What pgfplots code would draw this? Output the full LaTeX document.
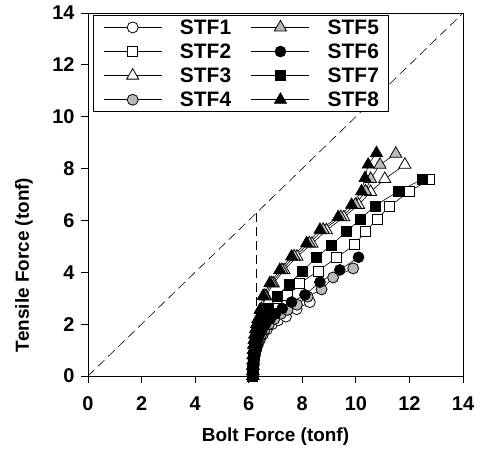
\documentclass[border=0pt]{standalone}
\usepackage{pgfplots}
\pgfplotsset{compat=1.18}
\usepackage{fontspec}
\setmainfont{Liberation Sans}
\begin{document}
\begin{tikzpicture}
\useasboundingbox (-88bp,-76bp) rectangle (393bp,376bp);
\pgfplotsset{
  s1/.style={black, line width=0.6bp, mark=*, mark size=5.5bp, mark options={solid, fill=white, line width=0.8bp}},
  s2/.style={black, line width=0.6bp, mark=square*, mark size=5bp, mark options={solid, fill=white, line width=0.8bp}},
  s3/.style={black, line width=0.6bp, mark=triangle*, mark size=7bp, mark options={solid, fill=white, line width=0.8bp}},
  s4/.style={black, line width=0.6bp, mark=*, mark size=5.5bp, mark options={solid, fill=gray!55, line width=0.8bp}},
  s5/.style={black, line width=0.6bp, mark=triangle*, mark size=7bp, mark options={solid, fill=gray!55, line width=0.8bp}},
  s6/.style={black, line width=0.6bp, mark=*, mark size=5.5bp, mark options={solid, fill=black}},
  s7/.style={black, line width=0.6bp, mark=square*, mark size=5bp, mark options={solid, fill=black}},
  s8/.style={black, line width=0.6bp, mark=triangle*, mark size=7bp, mark options={solid, fill=black}},
}
\begin{axis}[
  at={(0,0)}, anchor=south west,
  scale only axis, width=375bp, height=363bp,
  xmin=0, xmax=14, ymin=0, ymax=14,
  xtick={0,2,...,14}, ytick={0,2,...,14},
  xtick pos=bottom, ytick pos=left,
  tick align=outside, major tick length=7bp,
  axis line style={line width=0.8bp},
  every tick/.style={black, line width=0.8bp},
  /pgf/number format/assume math mode=true,
  tick label style={font=\fontsize{20}{24}\selectfont\bfseries},
  xticklabel style={yshift=-10bp},
  yticklabel style={xshift=-3bp},
  xlabel={Bolt Force (tonf)},
  ylabel={Tensile Force (tonf)},
  label style={font=\fontsize{19}{22}\selectfont\bfseries},
  xlabel style={at={(axis description cs:0.5,-0.168)}, anchor=center},
  ylabel style={at={(axis description cs:-0.171,0.306)}, anchor=center},
  legend columns=2,
  legend cell align=left,
  legend style={at={(axis description cs:0.0133,0.9945)}, anchor=north west,
    font=\fontsize{21}{24}\selectfont\bfseries, draw=black, line width=0.8bp,
    inner xsep=10bp, inner ysep=4bp, row sep=8bp,
    nodes={inner sep=0bp},
    /tikz/every odd column/.append style={column sep=18bp},
    /tikz/every even column/.append style={column sep=20bp}},
  legend image code/.code={\draw[mark repeat=2,mark phase=2] plot coordinates {(0bp,0bp)(29bp,0bp)(58bp,0bp)};},
  clip=false,
]
\addplot[black, line width=0.6bp, dash pattern=on 9bp off 5bp, forget plot] coordinates {(0,0)(14,14)};
\addplot[black, line width=0.6bp, dash pattern=on 9bp off 5bp, forget plot] coordinates {(6.3,0)(6.3,6.3)};
% STF1
\addplot[s1, forget plot] coordinates {(6.15,0)(6.16,0.2)(6.18,0.4)(6.2,0.6)(6.23,0.8)(6.28,1.0)(6.34,1.2)(6.42,1.4)(6.53,1.6)(6.68,1.8)(6.87,2.0)(7.1,2.15)(7.39,2.29)(7.79,2.58)(8.28,2.85)};
% STF2
\addplot[s2, forget plot] coordinates {(6.15,0)(6.16,0.2)(6.17,0.4)(6.18,0.6)(6.2,0.8)(6.22,1.0)(6.25,1.2)(6.29,1.4)(6.35,1.6)(6.43,1.8)(6.53,2.0)(6.66,2.2)(6.82,2.4)(7.04,2.6)(7.44,3.09)(7.91,3.58)(8.59,4.05)(9.28,4.57)(9.96,5.06)(10.36,5.57)(10.8,6.05)(11.27,6.56)(12.01,7.12)(12.76,7.59)};
% STF3
\addplot[s3, forget plot] coordinates {(6.16,0)(6.16,0.2)(6.16,0.4)(6.17,0.6)(6.17,0.8)(6.19,1.0)(6.21,1.2)(6.23,1.4)(6.26,1.6)(6.3,1.8)(6.34,2.0)(6.39,2.2)(6.48,2.55)(6.64,3.07)(6.92,3.57)(7.32,4.08)(7.8,4.6)(8.36,5.1)(8.9,5.62)(9.55,6.12)(10.1,6.6)(10.55,7.1)(11.08,7.6)(11.83,8.15)};
% STF4
\addplot[s4, forget plot] coordinates {(6.15,0)(6.16,0.2)(6.17,0.4)(6.19,0.6)(6.22,0.8)(6.26,1.0)(6.31,1.2)(6.38,1.4)(6.47,1.6)(6.6,1.8)(6.76,2.0)(6.96,2.2)(7.2,2.4)(7.45,2.55)(7.8,2.75)(8.2,3.06)(8.72,3.34)(9.15,3.8)(9.9,4.15)};
% STF5
\addplot[s5, forget plot] coordinates {(6.16,0)(6.16,0.2)(6.16,0.4)(6.17,0.6)(6.17,0.8)(6.18,1.0)(6.2,1.2)(6.22,1.4)(6.25,1.6)(6.28,1.8)(6.32,2.0)(6.37,2.2)(6.46,2.55)(6.6,3.09)(6.86,3.58)(7.24,4.09)(7.7,4.61)(8.26,5.12)(8.78,5.64)(9.44,6.13)(9.98,6.6)(10.36,7.12)(10.55,7.6)(10.9,8.15)(11.49,8.57)};
% STF6
\addplot[s6, forget plot] coordinates {(6.15,0)(6.16,0.2)(6.17,0.4)(6.19,0.6)(6.21,0.8)(6.24,1.0)(6.28,1.2)(6.33,1.4)(6.4,1.6)(6.5,1.8)(6.63,2.0)(6.8,2.2)(7.0,2.4)(7.25,2.6)(7.6,2.85)(8.1,3.13)(8.66,3.62)(9.4,4.09)(10.1,4.58)};
% STF7
\addplot[s7, forget plot] coordinates {(6.15,0)(6.15,0.2)(6.16,0.4)(6.17,0.6)(6.18,0.8)(6.2,1.0)(6.22,1.2)(6.25,1.4)(6.3,1.6)(6.36,1.8)(6.43,2.0)(6.52,2.2)(6.62,2.4)(6.73,2.6)(7.06,3.06)(7.51,3.55)(8.01,4.05)(8.53,4.57)(9.09,5.06)(9.65,5.57)(10.17,6.05)(10.71,6.56)(11.58,7.12)(12.49,7.59)};
% STF8
\addplot[s8, forget plot] coordinates {(6.15,0)(6.15,0.2)(6.15,0.4)(6.16,0.6)(6.16,0.8)(6.17,1.0)(6.18,1.2)(6.2,1.4)(6.22,1.6)(6.25,1.8)(6.29,2.0)(6.34,2.2)(6.42,2.55)(6.54,3.09)(6.79,3.58)(7.16,4.09)(7.6,4.61)(8.16,5.12)(8.66,5.64)(9.34,6.13)(9.84,6.6)(10.21,7.12)(10.34,7.63)(10.46,8.15)(10.77,8.6)};
\addlegendimage{s1}\addlegendentry{STF1}
\addlegendimage{s5}\addlegendentry{STF5}
\addlegendimage{s2}\addlegendentry{STF2}
\addlegendimage{s6}\addlegendentry{STF6}
\addlegendimage{s3}\addlegendentry{STF3}
\addlegendimage{s7}\addlegendentry{STF7}
\addlegendimage{s4}\addlegendentry{STF4}
\addlegendimage{s8}\addlegendentry{STF8}
\end{axis}
\end{tikzpicture}
\end{document}
